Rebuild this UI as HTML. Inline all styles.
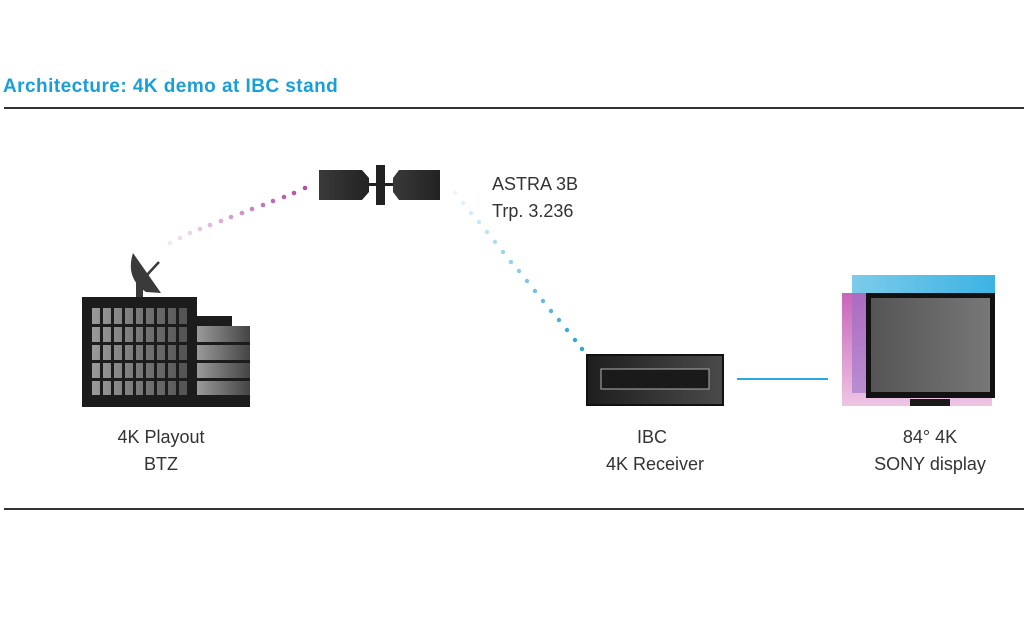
<!DOCTYPE html>
<html><head><style>
html,body{margin:0;padding:0;background:#fff;}
svg{display:block}
text{font-family:"Liberation Sans",sans-serif;}
</style></head><body>
<svg width="1024" height="640" viewBox="0 0 1024 640" xmlns="http://www.w3.org/2000/svg">
<defs>
<linearGradient id="win" x1="0" x2="1"><stop offset="0" stop-color="#9a9a9a"/><stop offset="1" stop-color="#5a5a5a"/></linearGradient>
<linearGradient id="side" x1="0" x2="1"><stop offset="0" stop-color="#9a9a9a"/><stop offset="1" stop-color="#444"/></linearGradient>
<linearGradient id="sat" x1="0" x2="1"><stop offset="0" stop-color="#3a3a3a"/><stop offset="1" stop-color="#222"/></linearGradient>
<linearGradient id="rcv" x1="0" x2="1"><stop offset="0" stop-color="#1e1e1e"/><stop offset="1" stop-color="#4a4a4a"/></linearGradient>
<linearGradient id="scr" x1="0" x2="1"><stop offset="0" stop-color="#555"/><stop offset="1" stop-color="#777"/></linearGradient>
<linearGradient id="mag" x1="0" x2="0" y1="0" y2="1"><stop offset="0" stop-color="#c865b8"/><stop offset="1" stop-color="#eec4e4"/></linearGradient>
<linearGradient id="blu" x1="0" x2="1"><stop offset="0" stop-color="#7ccbe9"/><stop offset="1" stop-color="#3cb3e3"/></linearGradient>
</defs>
<text x="3" y="92" font-size="19" font-weight="bold" fill="#1a9ed9" letter-spacing="0.45">Architecture: 4K demo at IBC stand</text>
<rect x="4" y="107" width="1020" height="2" fill="#333"/>
<rect x="4" y="508" width="1020" height="2" fill="#333"/>

<!-- dish -->
<path d="M133 253 Q125 278 146 292 L161 293 Z" fill="#3a3a3a"/>
<line x1="146" y1="276" x2="159" y2="262" stroke="#3a3a3a" stroke-width="2.5"/>
<rect x="136" y="282" width="7" height="16" fill="#3a3a3a"/>
<!-- building -->
<rect x="82" y="297" width="115" height="110" fill="#1c1c1c"/>
<rect x="92" y="308" width="87" height="87" fill="url(#win)"/>
<g fill="#1c1c1c">
<rect x="100" y="308" width="3" height="87"/><rect x="111" y="308" width="3" height="87"/><rect x="122" y="308" width="3" height="87"/><rect x="133" y="308" width="3" height="87"/><rect x="143" y="308" width="3" height="87"/><rect x="154" y="308" width="3" height="87"/><rect x="165" y="308" width="3" height="87"/><rect x="176" y="308" width="3" height="87"/>
<rect x="92" y="324" width="96" height="3"/><rect x="92" y="342" width="96" height="3"/><rect x="92" y="360" width="96" height="3"/><rect x="92" y="378" width="96" height="3"/>
</g>
<rect x="179" y="308" width="8" height="87" fill="#555"/>
<rect x="179" y="324" width="9" height="3" fill="#1c1c1c"/><rect x="179" y="342" width="9" height="3" fill="#1c1c1c"/><rect x="179" y="360" width="9" height="3" fill="#1c1c1c"/><rect x="179" y="378" width="9" height="3" fill="#1c1c1c"/>
<rect x="197" y="316" width="35" height="12" fill="#1c1c1c"/>
<rect x="197" y="326" width="53" height="81" fill="url(#side)"/>
<g fill="#1c1c1c"><rect x="197" y="342" width="53" height="3"/><rect x="197" y="360" width="53" height="3"/><rect x="197" y="378" width="53" height="3"/><rect x="197" y="395" width="53" height="12"/></g>

<!-- satellite -->
<path d="M319 170 H362 L369 178 V192 L362 200 H319 Z" fill="url(#sat)"/>
<rect x="369" y="183" width="24" height="3" fill="#222"/>
<rect x="376" y="165" width="9" height="40" fill="#222"/>
<path d="M440 170 H399 L393 178 V192 L399 200 H440 Z" fill="url(#sat)"/>

<!-- magenta dots -->
<g fill="#b44da5">
<circle cx="305" cy="188" r="2.3" opacity="1"/><circle cx="294" cy="193" r="2.3" opacity=".95"/><circle cx="284" cy="197" r="2.3" opacity=".9"/><circle cx="273" cy="201" r="2.3" opacity=".85"/><circle cx="263" cy="205" r="2.3" opacity=".78"/><circle cx="252" cy="209" r="2.3" opacity=".7"/><circle cx="242" cy="213" r="2.3" opacity=".62"/><circle cx="231" cy="217" r="2.3" opacity=".55"/><circle cx="221" cy="221" r="2.3" opacity=".47"/><circle cx="210" cy="225" r="2.3" opacity=".4"/><circle cx="200" cy="229" r="2.3" opacity=".33"/><circle cx="190" cy="233" r="2.3" opacity=".26"/><circle cx="180" cy="238" r="2.3" opacity=".2"/><circle cx="170" cy="243" r="2.3" opacity=".14"/>
</g>
<!-- blue dots -->
<g fill="#2aa3db">
<circle cx="455" cy="193" r="2.2" opacity=".1"/><circle cx="463" cy="203" r="2.2" opacity=".15"/><circle cx="471" cy="213" r="2.2" opacity=".2"/><circle cx="479" cy="222" r="2.2" opacity=".26"/><circle cx="487" cy="232" r="2.2" opacity=".32"/><circle cx="495" cy="242" r="2.2" opacity=".38"/><circle cx="503" cy="252" r="2.2" opacity=".45"/><circle cx="511" cy="262" r="2.2" opacity=".5"/><circle cx="519" cy="271" r="2.2" opacity=".56"/><circle cx="527" cy="281" r="2.2" opacity=".62"/><circle cx="535" cy="291" r="2.2" opacity=".68"/><circle cx="543" cy="301" r="2.2" opacity=".74"/><circle cx="551" cy="311" r="2.2" opacity=".8"/><circle cx="559" cy="320" r="2.2" opacity=".86"/><circle cx="567" cy="330" r="2.2" opacity=".92"/><circle cx="575" cy="340" r="2.2" opacity=".96"/><circle cx="582" cy="349" r="2.2"/>
</g>
<text x="492" y="190" font-size="18" fill="#333">ASTRA 3B</text>
<text x="492" y="217" font-size="18" fill="#333">Trp. 3.236</text>

<!-- receiver -->
<rect x="587" y="355" width="136" height="50" fill="url(#rcv)" stroke="#111" stroke-width="2"/>
<rect x="601" y="369" width="108" height="20" fill="#1a1a1a" stroke="#999" stroke-width="1.2"/>
<rect x="737" y="378" width="91" height="2" fill="#2aa8de"/>

<!-- TV -->
<rect x="852" y="275" width="143" height="60" fill="url(#blu)"/>
<rect x="842" y="293" width="150" height="113" fill="url(#mag)"/>
<rect x="852" y="293" width="14" height="100" fill="#9a6fc6" opacity=".6"/>
<rect x="866" y="293" width="129" height="105" fill="#111"/>
<rect x="871" y="298" width="119" height="94" fill="url(#scr)"/>
<rect x="910" y="399" width="40" height="7" fill="#1a1a1a"/>

<g font-size="18" fill="#333" text-anchor="middle">
<text x="161" y="443">4K Playout</text><text x="161" y="470">BTZ</text>
<text x="652" y="443">IBC</text><text x="655" y="470">4K Receiver</text>
<text x="930" y="443">84° 4K</text><text x="930" y="470">SONY display</text>
</g>
</svg>
</body></html>
